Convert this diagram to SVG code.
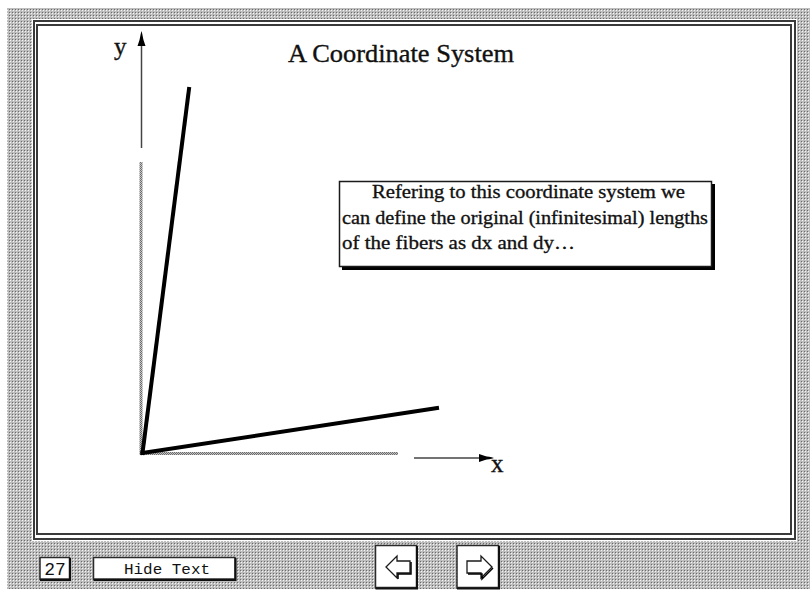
<svg xmlns="http://www.w3.org/2000/svg" width="810" height="591" viewBox="0 0 810 591">
  <defs>
    <!-- dithered desktop backdrop -->
    <pattern id="dither" width="3" height="3" patternUnits="userSpaceOnUse">
      <rect width="3" height="3" fill="#bdbdbd"/>
      <rect x="1" y="1" width="1" height="1" fill="#f6f6f6"/>
      <rect x="0" y="0" width="1" height="1" fill="#6a6a6a"/>
    </pattern>
    <!-- grainy texture for the undeformed axis traces -->
    <pattern id="grain" width="2" height="2" patternUnits="userSpaceOnUse">
      <rect width="2" height="2" fill="#c4c4c4"/>
      <rect x="0" y="0" width="1" height="1" fill="#6c6c6c"/>
      <rect x="1" y="1" width="1" height="1" fill="#6c6c6c"/>
    </pattern>
    <style>
      .serif { font-family: "Liberation Serif", "DejaVu Serif", serif; fill: #111; stroke: #111; stroke-width: 0.35; }
      .mono { font-family: "Liberation Mono", "DejaVu Sans Mono", monospace; fill: #111; }
      .frame { fill: none; stroke: #3a3a3a; stroke-width: 2; }
      .fiber { stroke: #000; stroke-width: 4; stroke-linecap: square; fill: none; }
      .axis { stroke: #444; stroke-width: 1.5; fill: none; }
      .btn { fill: #fff; stroke: #2a2a2a; stroke-width: 1.5; }
      .shadow { fill: none; stroke: #111; stroke-width: 2; }
      .icon { fill: #fff; stroke: #1a1a1a; stroke-width: 1.3; stroke-linejoin: miter; }
    </style>
  </defs>

  <!-- backdrop -->
  <rect x="0" y="0" width="810" height="591" fill="#fff"/>
  <rect x="7" y="8" width="803" height="581" fill="url(#dither)"/>

  <!-- slide frame -->
  <g id="frame">
    <rect x="32" y="19" width="765" height="522" fill="#fff"/>
    <rect class="frame" x="34" y="21" width="761" height="518"/>
    <rect class="frame" x="37" y="25" width="754" height="509"/>
  </g>

  <g id="title">
    <text class="serif" x="288" y="62" font-size="25" textLength="226" lengthAdjust="spacingAndGlyphs">A Coordinate System</text>
  </g>

  <!-- reference axes -->
  <g id="connectors">
    <g id="y-axis">
      <line class="axis" x1="141.5" y1="44" x2="141.5" y2="148"/>
      <path d="M141.5,31 C142.5,34 143,38 143.5,40 L145.5,46 L137.5,46 L139.5,40 C140,38 140.5,34 141.5,31 Z" fill="#000"/>
      <rect x="139.5" y="162" width="3" height="293" fill="url(#grain)"/>
      <text class="serif" x="114" y="55" font-size="25">y</text>
    </g>
    <g id="x-axis">
      <rect x="141" y="452" width="257" height="3" fill="url(#grain)"/>
      <line class="axis" x1="414" y1="458" x2="484" y2="458"/>
      <path d="M494,458 C491,459 487,459.5 485,460 L479,462 L479,454 L485,456 C487,456.5 491,457 494,458 Z" fill="#000"/>
      <text class="serif" x="491" y="472" font-size="25">x</text>
    </g>
  </g>

  <!-- deformed fibers dy and dx -->
  <g id="fiber-dy">
    <line class="fiber" x1="142.5" y1="453" x2="189" y2="89"/>
  </g>
  <g id="fiber-dx">
    <line class="fiber" x1="142.5" y1="453" x2="437" y2="408"/>
  </g>

  <!-- explanatory note -->
  <g id="note">
    <rect x="342" y="184" width="373" height="86" fill="#000"/>
    <rect x="339.5" y="181.5" width="372" height="85" fill="#fff" stroke="#1a1a1a" stroke-width="1.5"/>
    <text class="serif" x="372" y="198" font-size="19.5" textLength="313" lengthAdjust="spacingAndGlyphs">Refering to this coordinate system we</text>
    <text class="serif" x="342" y="224" font-size="19.5" textLength="366" lengthAdjust="spacingAndGlyphs">can define the original (infinitesimal) lengths</text>
    <text class="serif" x="342" y="249" font-size="19.5" textLength="233" lengthAdjust="spacingAndGlyphs">of the fibers as dx and dy…</text>
  </g>

  <!-- navigation controls -->
  <g id="page-number">
    <rect class="btn" x="40" y="557.5" width="29.5" height="21.5"/>
    <polyline class="shadow" points="70,558 70,580 40,580"/>
    <text class="mono" x="55" y="574.5" font-size="18" text-anchor="middle">27</text>
  </g>
  <g id="hide-text">
    <rect class="btn" x="93.5" y="557.5" width="141.5" height="21.5"/>
    <polyline class="shadow" points="235.5,558 235.5,580 93.5,580"/>
    <text class="mono" x="124" y="574" font-size="15" textLength="86" lengthAdjust="spacingAndGlyphs">Hide Text</text>
  </g>
  <g id="prev-button">
    <rect class="btn" x="375.5" y="545.5" width="41" height="42"/>
    <polyline class="shadow" points="417,546 417,588.5 375.5,588.5"/>
    <path class="icon" d="M386,567 L397,556 L397,561 L410,561 L410,573 L397,573 L397,578 Z"/>
    <polyline points="411,562 411,574 398,574 398,579" fill="none" stroke="#000" stroke-width="1.5"/>
  </g>
  <g id="next-button">
    <rect class="btn" x="457" y="545.5" width="41.5" height="42"/>
    <polyline class="shadow" points="499,546 499,588.5 457,588.5"/>
    <path class="icon" d="M492,567 L481,556 L481,561 L467,561 L467,573 L481,573 L481,578 Z"/>
    <polyline points="468,574 482,574 482,579 493,568" fill="none" stroke="#000" stroke-width="1.5"/>
  </g>
</svg>
